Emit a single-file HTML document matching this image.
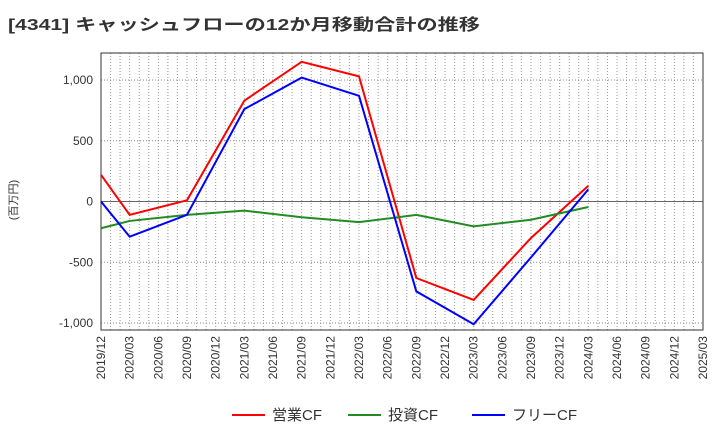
<!DOCTYPE html>
<html><head><meta charset="utf-8"><style>
body{margin:0;background:#fff;font-family:"Liberation Sans","Noto Sans CJK JP",sans-serif;}
</style></head><body>
<svg width="720" height="440" xmlns="http://www.w3.org/2000/svg" font-family="Liberation Sans, Noto Sans CJK JP, sans-serif">
<text x="8" y="30" font-size="16" font-weight="bold" fill="#333" textLength="472" lengthAdjust="spacingAndGlyphs">[4341]  キャッシュフローの12か月移動合計の推移</text>
<text transform="translate(17,200) rotate(-90)" font-size="11" fill="#333" text-anchor="middle">(百万円)</text>
<g id="grid"></g><g id="axes"></g><g id="series"></g><g id="legend"></g>
</svg>
<script>
const categories=["2019/12","2020/03","2020/06","2020/09","2020/12","2021/03","2021/06","2021/09","2021/12","2022/03","2022/06","2022/09","2022/12","2023/03","2023/06","2023/09","2023/12","2024/03","2024/06","2024/09","2024/12","2025/03"];
const yTicks=[1000,500,0,-500,-1000];
const yTickLabels=["1,000","500","0","-500","-1,000"];
const pointIdx=[0,1,3,5,7,9,11,13,15,17];
const opCF=[220,-110,10,830,1150,1030,-630,-810,-300,130];
const invCF=[-220,-160,-110,-75,-130,-170,-110,-205,-150,-45];
const freeCF=[0,-290,-110,760,1020,870,-740,-1010,-460,100];
const seriesNames=["営業CF","投資CF","フリーCF"];
const colors=["#ff0000","#228b22","#0000ff"];
const L=101,R=703,T=53,B=330;
const x=i=>L+(R-L)*i/21;
const y=v=>201.5-v*0.1215;
const NS="http://www.w3.org/2000/svg";
function mk(p,t,a){const e=document.createElementNS(NS,t);for(const k in a)e.setAttribute(k,a[k]);document.getElementById(p).appendChild(e);return e;}
for(let m=1;m<63;m++){const xx=L+(R-L)*m/63;
const g=mk("grid","line",{x1:xx,x2:xx,y1:T,y2:B,stroke:"#999","stroke-dasharray":"1,2","stroke-width":1});

}
yTicks.forEach((v,i)=>{
const g=mk("grid","line",{x1:L,x2:R,y1:y(v),y2:y(v),stroke:v===0?"#666":"#888","stroke-dasharray":v===0?"":"1,2","stroke-width":1});


const t=mk("axes","text",{x:L-8,y:y(v)+4,"text-anchor":"end","font-size":12,fill:"#333"});
t.textContent=yTickLabels[i];

});
const fr=mk("axes","rect",{x:L,y:T,width:R-L,height:B-T,fill:"none",stroke:"#333"});


categories.forEach((c,i)=>{
const t=mk("axes","text",{transform:`translate(${x(i)+4},${B+6}) rotate(-90)`,"text-anchor":"end","font-size":12,fill:"#333"});
t.textContent=c;

});
[opCF,invCF,freeCF].forEach((s,k)=>{
const p=mk("series","polyline",{points:s.map((v,i)=>x(pointIdx[i])+","+y(v)).join(" "),fill:"none",stroke:colors[k],"stroke-width":2});

});
const lx=[232,348,472];
seriesNames.forEach((n,k)=>{
const l=mk("legend","line",{x1:lx[k],x2:lx[k]+33,y1:415,y2:415,stroke:colors[k],"stroke-width":2});


const t=mk("legend","text",{x:lx[k]+40,y:420,"font-size":15,fill:"#333"});
t.textContent=n;

});
</script>
</body></html>
